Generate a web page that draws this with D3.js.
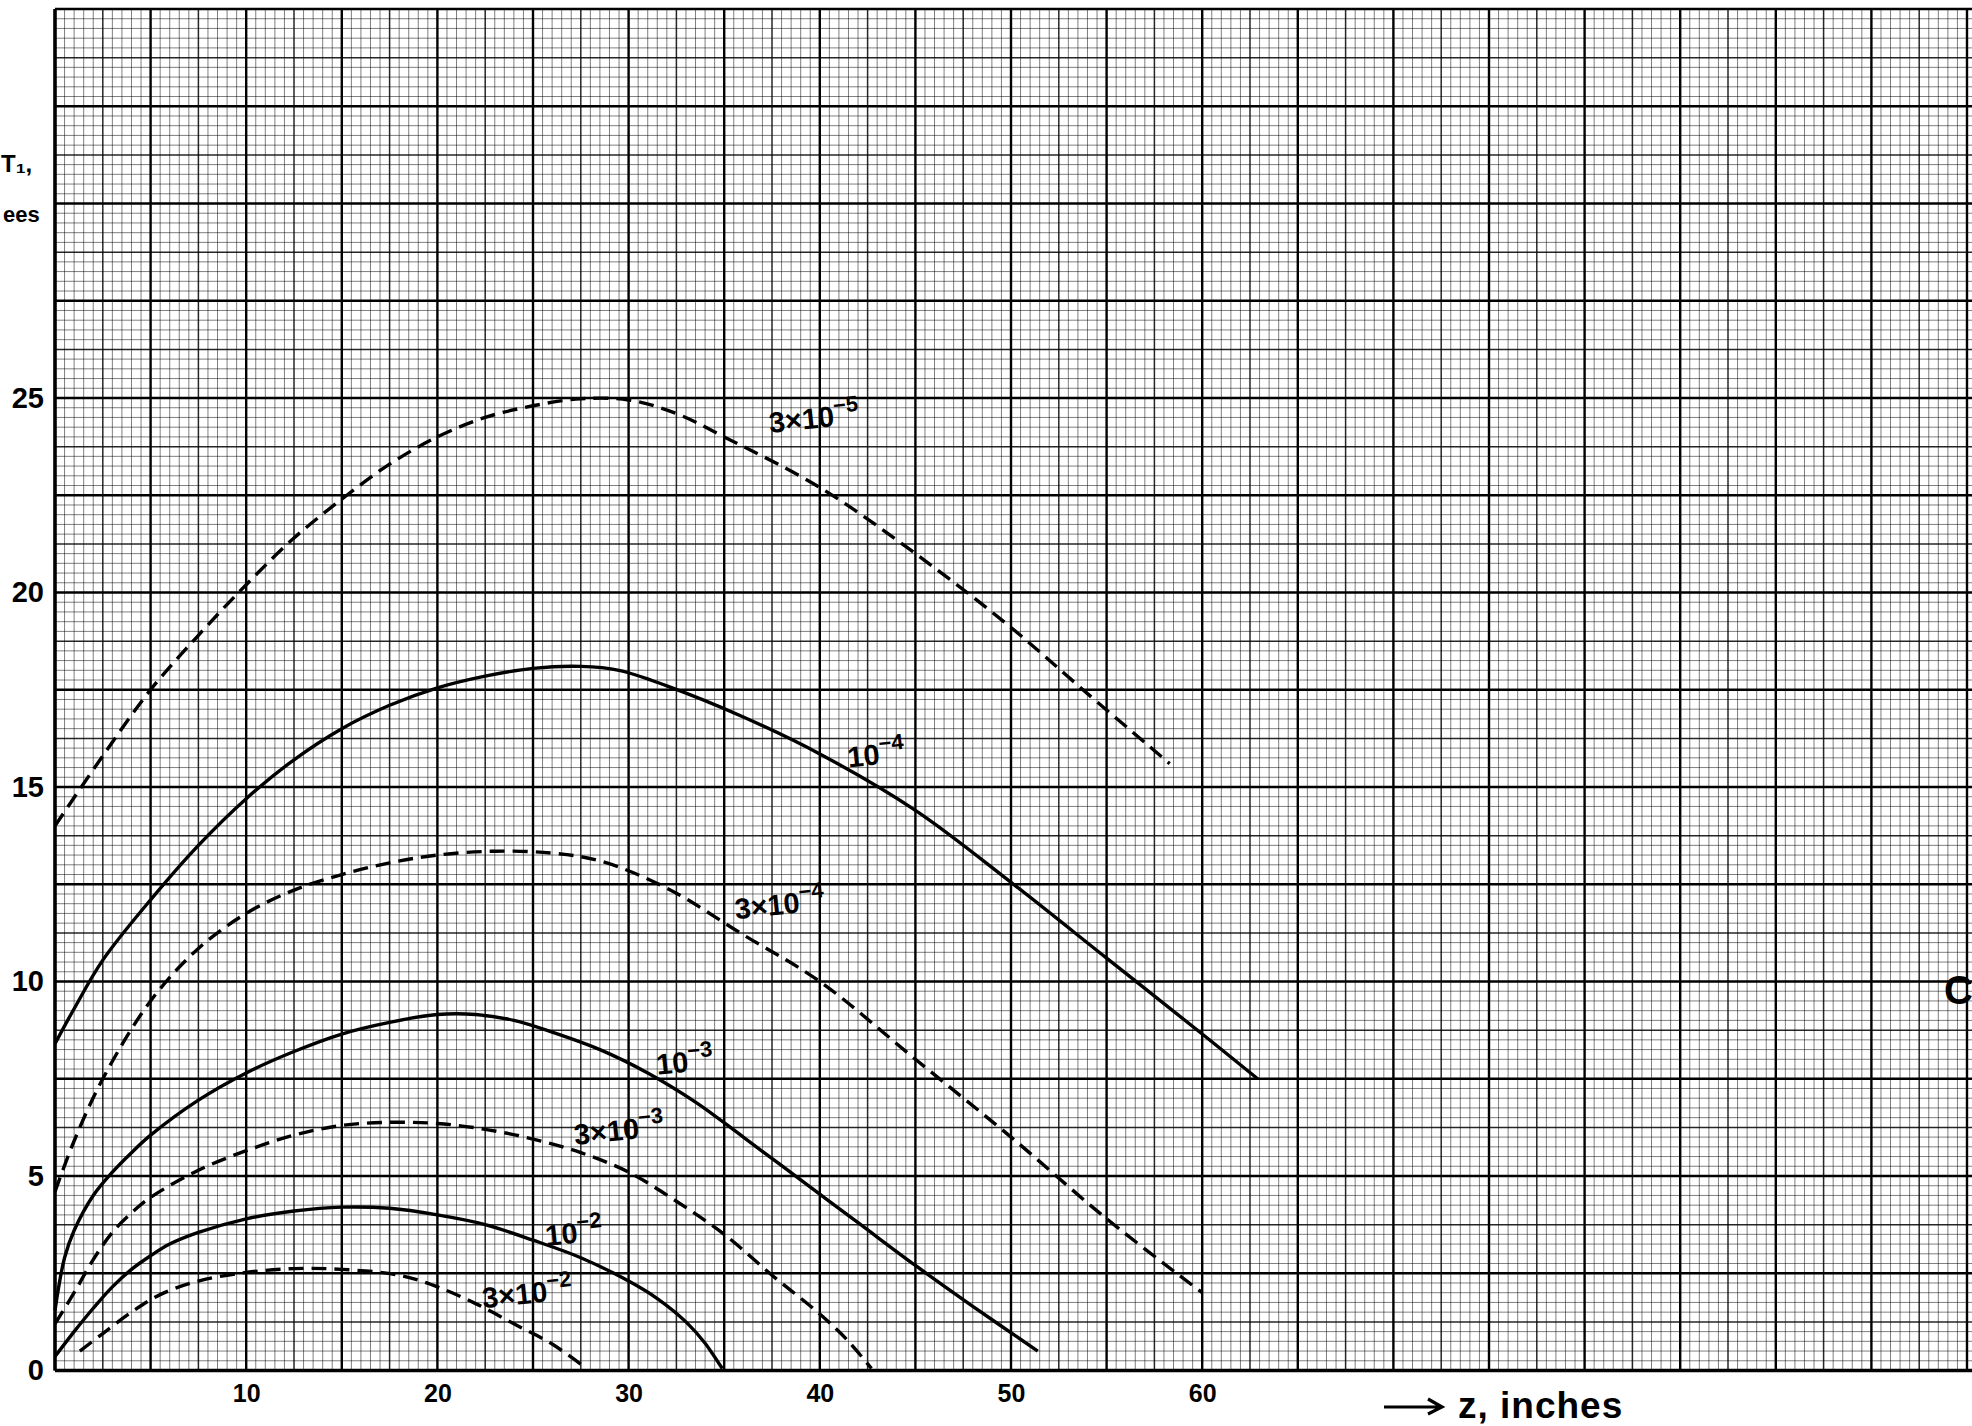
<!DOCTYPE html>
<html>
<head>
<meta charset="utf-8">
<script src="https://cdn.jsdelivr.net/npm/d3@7"></script>
<style>
  body { margin: 0; background: #fff; }
  svg { display: block; }
  .tick text { font-family: "Liberation Sans", "DejaVu Sans", sans-serif; font-weight: bold; fill: #000; }
</style>
</head>
<body>
<div id="root"></div>
<script>
const width = 1972;
const height = 1426;

// curves: [z (inches), value]
const c3e5 = [[0,14.0],[2.5,15.8],[5,17.5],[7.5,18.9],[10,20.2],[12.5,21.4],[15,22.4],[17.5,23.3],[20,24.0],[22.5,24.5],[25,24.8],[27.5,24.98],[30,24.95],[32.5,24.6],[35,24.0],[40,22.7],[45,21.0],[50,19.1],[54,17.4],[58.3,15.6]];
const c1e4 = [[0,8.4],[1,9.3],[2.5,10.55],[5,12.1],[7.5,13.5],[10,14.7],[12.5,15.7],[15,16.5],[17.5,17.1],[20,17.55],[22.5,17.85],[25,18.05],[27.5,18.1],[29.5,18.0],[32,17.6],[36,16.8],[40,15.85],[45,14.4],[50,12.55],[55,10.6],[60,8.65],[62.9,7.5]];
const c3e4 = [[0,4.6],[1,5.9],[2.5,7.5],[5,9.5],[7.5,10.85],[10,11.75],[12.5,12.35],[15,12.75],[17.5,13.05],[20,13.25],[23,13.35],[26,13.3],[28.5,13.1],[32,12.4],[36,11.2],[40,10.0],[45,8.0],[50,6.0],[55,3.9],[60,2.0]];
const c1e3 = [[0,1.55],[0.5,2.9],[1,3.6],[2,4.5],[3,5.1],[4,5.6],[5,6.05],[7.5,6.95],[10,7.65],[12.5,8.2],[15,8.65],[17.5,8.95],[20,9.15],[22,9.15],[24,9.0],[26,8.7],[28.5,8.25],[31,7.65],[33.5,6.9],[36,6.0],[39,4.9],[42,3.8],[45,2.7],[48,1.65],[51.4,0.5]];
const c3e3 = [[0,1.2],[1,2.0],[2,2.85],[3,3.55],[4,4.05],[5,4.45],[7.5,5.15],[10,5.65],[12.5,6.05],[15,6.3],[17.5,6.38],[20,6.35],[22.5,6.2],[25,5.95],[27.5,5.6],[30,5.1],[32.5,4.35],[35,3.5],[37.5,2.45],[40,1.45],[41.5,0.75],[42.7,0.05]];
const c1e2 = [[0,0.36],[1,1.0],[2,1.6],[3,2.15],[4,2.6],[5,2.95],[6,3.25],[7.5,3.55],[10,3.9],[12.5,4.1],[15,4.2],[17.5,4.17],[20,4.0],[22.5,3.75],[25,3.35],[27.5,2.9],[30,2.3],[31.5,1.85],[33,1.25],[34,0.7],[34.9,0.05]];
const c3e2 = [[1.3,0.5],[2.5,0.95],[4,1.5],[5.5,1.95],[7.5,2.3],[10,2.52],[12.5,2.62],[15,2.6],[18,2.45],[20,2.15],[22,1.72],[24,1.2],[26,0.68],[27.8,0.05]];
const curveData = [c3e5, c1e4, c3e4, c1e3, c3e3, c1e2, c3e2];
const curveDashed = [true, false, true, false, true, false, true];
const curveLabelMant = ["3×10", "10", "3×10", "10", "3×10", "10", "3×10"];
const curveLabelExp = ["−5", "−4", "−4", "−3", "−3", "−2", "−2"];
const labelAt = [[37.4,24.1],[41.5,15.5],[35.6,11.6],[31.5,7.6],[27.2,5.8],[25.7,3.2],[22.4,1.6]];

const xTicks = [10, 20, 30, 40, 50, 60];
const yTicks = [0, 5, 10, 15, 20, 25];

const x = d3.scaleLinear().domain([0, 100]).range([55, 1967]);
const y = d3.scaleLinear().domain([0, 35]).range([1370.5, 9]);

let svg = d3.select("#root").append("svg")
  .attr("width", width)
  .attr("height", height);

// graph paper
let grid = svg.append("g").attr("class", "paper");
d3.range(0, 103, 0.5).forEach(function (v) {
  let heavy = v % 5 === 0, mid = !heavy && v % 2.5 === 0;
  grid.append("line")
    .attr("x1", x(v)).attr("x2", x(v))
    .attr("y1", y(35)).attr("y2", y(0))
    .attr("stroke", "#000")
    .attr("stroke-width", heavy ? 2.4 : mid ? 1.5 : 1)
    .attr("stroke-opacity", heavy ? 1 : mid ? 0.85 : 0.5);
});
d3.range(0, 35.01, 0.25).forEach(function (v) {
  let heavy = Math.abs(v % 2.5) < 1e-6, mid = !heavy && Math.abs(v % 1.25) < 1e-6;
  grid.append("line")
    .attr("x1", x(0)).attr("x2", width)
    .attr("y1", y(v)).attr("y2", y(v))
    .attr("stroke", "#000")
    .attr("stroke-width", heavy ? 2.4 : mid ? 1.5 : 1)
    .attr("stroke-opacity", heavy ? 1 : mid ? 0.85 : 0.5);
});
// axes lines
svg.append("line").attr("x1", x(0)).attr("x2", width).attr("y1", y(0)).attr("y2", y(0))
  .attr("stroke", "#000").attr("stroke-width", 3.5);
svg.append("line").attr("x1", x(0)).attr("x2", x(0)).attr("y1", y(35)).attr("y2", y(0))
  .attr("stroke", "#000").attr("stroke-width", 3.5);

// tick labels
let xAxis = d3.axisBottom(x).tickValues(xTicks).tickSize(0).tickPadding(14);
svg.append("g").attr("transform", "translate(0," + y(0) + ")").call(xAxis)
  .style("font-size", "25px")
  .call(g => g.select(".domain").remove());

let yAxis = d3.axisLeft(y).tickValues(yTicks).tickSize(0).tickPadding(11);
svg.append("g").attr("transform", "translate(" + x(0) + ",0)").call(yAxis)
  .style("font-size", "29px")
  .call(g => g.select(".domain").remove());

// curves
let line = d3.line()
  .x(d => x(d[0]))
  .y(d => y(d[1]))
  .curve(d3.curveCatmullRom.alpha(0.5));

curveData.forEach(function (pts, i) {
  svg.append("path")
    .datum(pts)
    .attr("d", line)
    .attr("fill", "none")
    .attr("stroke", "#000")
    .attr("stroke-width", 3.4)
    .attr("stroke-dasharray", curveDashed[i] ? "15,8" : null);

  let lx = x(labelAt[i][0]), ly = y(labelAt[i][1]);
  let t = svg.append("text")
    .attr("x", lx)
    .attr("y", ly)
    .attr("font-family", "Liberation Sans, sans-serif")
    .attr("font-weight", "bold")
    .attr("font-size", 29)
    .attr("transform", "rotate(-6," + lx + "," + ly + ")");
  t.append("tspan").text(curveLabelMant[i]);
  t.append("tspan").attr("dy", -13).attr("font-size", 22).text(curveLabelExp[i]);
});

// axis titles
svg.append("path")
  .attr("d", "M1384,1407 L1440,1407 M1428,1399 L1442,1407 L1428,1414")
  .attr("fill", "none").attr("stroke", "#000").attr("stroke-width", 3.2);
svg.append("text")
  .attr("x", 1458).attr("y", 1418)
  .attr("font-family", "Liberation Sans, sans-serif")
  .attr("font-weight", "bold")
  .attr("font-size", 37)
  .attr("letter-spacing", 1)
  .text("z, inches");

svg.append("text")
  .attr("x", 1).attr("y", 172)
  .attr("font-family", "Liberation Sans, sans-serif")
  .attr("font-weight", "bold")
  .attr("font-size", 24)
  .text("T₁,");
svg.append("text")
  .attr("x", 3).attr("y", 222)
  .attr("font-family", "Liberation Sans, sans-serif")
  .attr("font-weight", "bold")
  .attr("font-size", 22)
  .text("ees");

// mark cut at the right edge
svg.append("text")
  .attr("x", 1944).attr("y", 1004)
  .attr("font-family", "Liberation Sans, sans-serif")
  .attr("font-weight", "bold")
  .attr("font-size", 40)
  .text("C");
</script>
</body>
</html>
